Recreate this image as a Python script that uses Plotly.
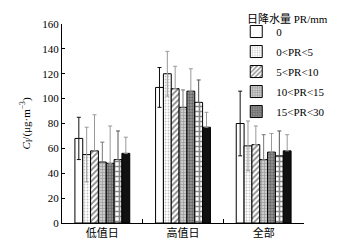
import plotly.graph_objects as go

categories = ["低值日", "高值日", "全部"]
series_names = ["0", "0<PR<5", "5<PR<10", "10<PR<15", "15<PR<30", "series6", "series7"]
legend_title = "日降水量 PR/mm"
values = [
    [68, 109, 80],
    [55, 120, 62],
    [58, 108, 63],
    [49, 93, 51],
    [48, 106, 57],
    [51, 97, 54],
    [56, 77, 58],
]
errors = [
    [17, 16, 26],
    [22, 18, 20],
    [29, 18, 15],
    [16, 14, 20],
    [30, 18, 15],
    [23, 18, 20],
    [13, 12, 13],
]

styles = [
    dict(color="white", pattern=None, ecolor="#111", sym=True),
    dict(color="white", pattern=dict(shape=".", fgcolor="#888", bgcolor="white", size=3, solidity=0.3), ecolor="#999", sym=True),
    dict(color="white", pattern=dict(shape="/", fgcolor="#111", bgcolor="white", size=4, solidity=0.45), ecolor="#999", sym=False),
    dict(color="white", pattern=dict(shape="+", fgcolor="#666", bgcolor="#ccc", size=3, solidity=0.4), ecolor="#777", sym=False),
    dict(color="#777", pattern=dict(shape=".", fgcolor="#333", bgcolor="#999", size=3, solidity=0.5), ecolor="#999", sym=False),
    dict(color="white", pattern=dict(shape="+", fgcolor="#111", bgcolor="white", size=5, solidity=0.55), ecolor="#555", sym=False),
    dict(color="#111", pattern=None, ecolor="#999", sym=False),
]

fig = go.Figure()
for i, (name, v, e, st) in enumerate(zip(series_names, values, errors, styles)):
    marker = dict(color=st["color"], line=dict(color="black", width=1))
    if st["pattern"]:
        marker["pattern"] = st["pattern"]
    if st["sym"]:
        err = dict(type="data", array=e, visible=True, color=st["ecolor"], thickness=1, width=2)
    else:
        err = dict(type="data", array=e, arrayminus=[0] * len(e), symmetric=False,
                   visible=True, color=st["ecolor"], thickness=1, width=2)
    fig.add_trace(go.Bar(
        x=categories, y=v, name=name, marker=marker, error_y=err,
        showlegend=i < 5, legendgroup="g%d" % i,
    ))

serif = "Liberation Serif, Times New Roman, serif"
cjk = "Noto Sans CJK SC"

fig.add_annotation(
    text=legend_title, xref="paper", yref="paper", x=0.756, y=1.03,
    xanchor="left", yanchor="middle", showarrow=False,
    font=dict(family=serif + ", " + cjk, size=11, color="black"),
)

fig.update_layout(
    width=363, height=241,
    margin=dict(l=54, r=67, t=16, b=26, autoexpand=False),
    paper_bgcolor="white", plot_bgcolor="white",
    barmode="group", bargap=0.32, bargroupgap=0,
    font=dict(family=serif, size=11, color="black"),
    showlegend=True,
    legend=dict(
        x=0.72, xanchor="left", y=1.035, yanchor="top",
        font=dict(family=serif, size=11),
        bgcolor="rgba(0,0,0,0)", tracegroupgap=1, itemwidth=30,
    ),
    xaxis=dict(
        type="category", showline=True, linecolor="black", linewidth=1,
        ticks="inside", ticklen=4, tickcolor="black", tickson="boundaries",
        showgrid=False, tickfont=dict(family=cjk, size=11),
    ),
    yaxis=dict(
        range=[0, 160], dtick=20, showline=True, linecolor="black", linewidth=1,
        ticks="inside", ticklen=3, tickcolor="black", showgrid=False, zeroline=False,
        title=dict(text="<i>C</i><sub>I</sub>/(μg·m<sup>−3</sup>)", font=dict(family=serif, size=11), standoff=9),
        tickfont=dict(family=serif, size=11),
    ),
)

fig.write_html("out.html")
